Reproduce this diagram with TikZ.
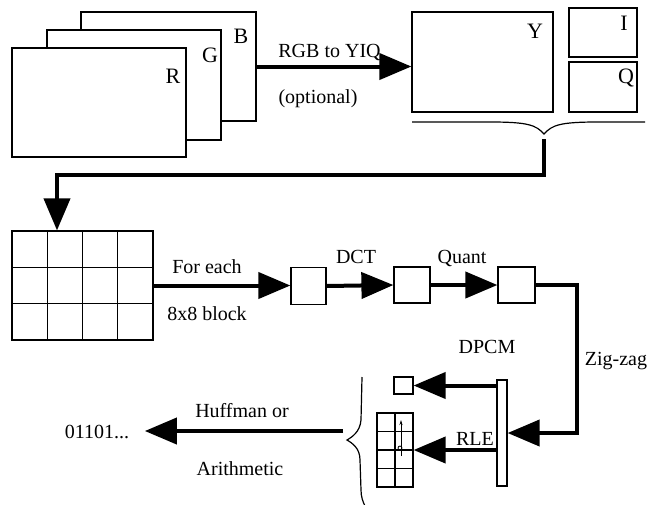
\documentclass[tikz,border=0pt]{standalone}
\usepackage{fontspec}
\setmainfont{Liberation Serif}
\usetikzlibrary{arrows.meta}
\begin{document}
\begin{tikzpicture}[x=1pt,y=-1pt,
  box/.style={draw, line width=1.2pt, fill=white, inner sep=0pt, anchor=center},
  thin/.style={line width=1.2pt},
  lbl/.style={font=\fontsize{20}{24}\selectfont, anchor=base, inner sep=0pt},
  big/.style={font=\fontsize{22}{26}\selectfont, anchor=base, inner sep=0pt},
  flow/.style={line width=4pt, -{Triangle[length=32pt,width=26pt]}},
  route/.style={line width=4pt}
]
\useasboundingbox (0,0) rectangle (652,504);
% RGB planes
\node[box, minimum width=175pt, minimum height=109pt] (B) at (168.5,66.5) {};
\node[box, minimum width=174pt, minimum height=110pt] (G) at (134,85) {};
\node[box, minimum width=174pt, minimum height=109pt] (R) at (99,102.5) {};
\node[big] (lR) at (173,83) {R};
\node[big] (lG) at (210,62) {G};
\node[big] (lB) at (241,43) {B};
% YIQ planes
\node[box, minimum width=141pt, minimum height=100pt] (Y) at (482.5,62) {};
\node[box, minimum width=68pt, minimum height=49pt] (I) at (603,32.5) {};
\node[box, minimum width=68pt, minimum height=50pt] (Q) at (603,87) {};
\node[big] (lY) at (535,38) {Y};
\node[big] (lI) at (624,30) {I};
\node[big] (lQ) at (626,83) {Q};
\draw[flow] (B.east) -- (B.east -| Y.west);
\node[lbl] (t1) at (329.5,57) {RGB to YIQ};
\node[lbl] (t2) at (318,103) {(optional)};
% top brace
\coordinate (ytip) at (544,134);
\draw[thin] (412,122) -- (490,122) .. controls (528,122) and (536,125) .. (ytip)
  .. controls (552,125) and (560,122) .. (598,122) -- (645,122);
% big grid
\node[box, minimum width=141pt, minimum height=109pt] (grid) at (82.5,285.5) {};
\draw[thin] (47.25,231) -- (47.25,340) (82.5,231) -- (82.5,340) (117.75,231) -- (117.75,340)
  (12,267.3) -- (153,267.3) (12,303.7) -- (153,303.7);
\coordinate (ybot) at (544,139);
\coordinate (turn) at (57,175);
\draw[flow] (ybot) |- (turn) -- (turn |- grid.north);
% block pipeline
\node[box, minimum width=35pt, minimum height=37pt] (b1) at (308.5,286) {};
\node[box, minimum width=36pt, minimum height=36pt] (b2) at (412,285) {};
\node[box, minimum width=37pt, minimum height=36pt] (b3) at (516.5,285) {};
\draw[flow] (grid.east) -- (grid.east -| b1.west);
\draw[flow] (b1.east) -- (b2.west);
\draw[flow] (b2.east) -- (b3.west);
\node[lbl] (t3) at (207,273) {For each};
\node[lbl] (t4) at (207,320) {8x8 block};
\node[lbl] (t5) at (356,263) {DCT};
\node[lbl] (t6) at (462,263) {Quant};
% zig-zag
\node[box, minimum width=10pt, minimum height=106pt] (bar) at (502,433) {};
\coordinate (zz) at (577,285);
\draw[flow] (b3.east) -- (b3.east -| zz) |- (bar.east);
\node[lbl] (t7) at (616,365) {Zig-zag};
% DC and AC
\node[box, minimum width=19pt, minimum height=17pt] (dc) at (403.5,385.5) {};
\node[box, minimum width=36pt, minimum height=74pt] (ac) at (395,450) {};
\draw[thin] (395,413) -- (395,487) (377,431.5) -- (413,431.5) (377,450) -- (413,450) (377,468.5) -- (413,468.5);
\draw[line width=0.8pt, -{Stealth[length=5pt,width=3pt]}] (401,456) -- (401,420);
\draw[line width=0.8pt] (400,448) circle (2pt);
\draw[flow] (bar.west |- dc.east) -- (dc.east);
\draw[flow] (bar.west |- ac.east) -- (ac.east);
\node[lbl] (t8) at (487,353) {DPCM};
\node[lbl] (t9) at (475,445) {RLE};
% bottom brace
\draw[thin] (362,377) -- (361,420) .. controls (360,432) and (352,437) .. (347,440)
  .. controls (352,443) and (360,448) .. (360,460) -- (361,490) .. controls (361,497) and (363,502) .. (365,506);
% entropy coding
\node[font=\fontsize{20}{24}\selectfont, anchor=base, inner xsep=15.5pt, inner ysep=0pt] (out) at (97,438) {01101...};
\coordinate (hb) at (343,431);
\draw[flow] (hb) -- (hb -| out.east);
\node[lbl] (t10) at (242,417) {Huffman or};
\node[lbl] (t11) at (240,475) {Arithmetic};
\end{tikzpicture}
\end{document}
